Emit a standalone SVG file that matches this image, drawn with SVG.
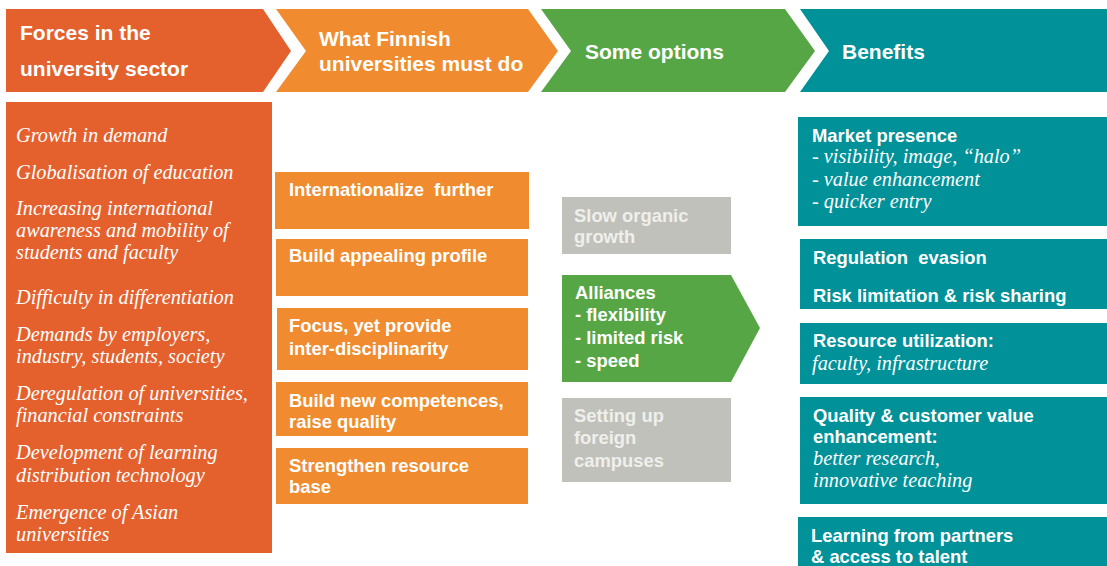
<svg xmlns="http://www.w3.org/2000/svg" width="1107" height="566" viewBox="0 0 1107 566">
<style>
.hd{font-family:"Liberation Sans",Arial,sans-serif;font-weight:bold;font-size:21px;fill:#ffffff}
.b{font-family:"Liberation Sans",Arial,sans-serif;font-weight:bold;font-size:18.4px;fill:#ffffff}
.g{font-family:"Liberation Sans",Arial,sans-serif;font-weight:bold;font-size:18.4px;fill:#EFEFEC}
.it{font-family:"Liberation Serif","Times New Roman",serif;font-style:italic;font-size:20.3px;fill:#ffffff}
.red{fill:#E4612E}
.org{fill:#F08C2F}
.grn{fill:#57A646}
.tea{fill:#009199}
.gry{fill:#C0C1BA}
</style>
<rect width="1107" height="566" fill="#ffffff"/>
<g id="connectors"></g>

<g id="header-forces">
<polygon class="red" points="6,9 263,9 291,51 263,92 6,92"/>
<text class="hd" x="20" y="40">Forces in the</text>
<text class="hd" x="20" y="76">university sector</text>
</g>
<g id="header-must-do">
<polygon class="org" points="276,9 528,9 558,51 528,92 276,92 306,51"/>
<text class="hd" x="319" y="46">What Finnish</text>
<text class="hd" x="319" y="71">universities must do</text>
</g>
<g id="header-options">
<polygon class="grn" points="541,9 785,9 815,51 785,92 541,92 571,51"/>
<text class="hd" x="585" y="59">Some options</text>
</g>
<g id="header-benefits">
<polygon class="tea" points="800,9 1107,9 1107,92 800,92 829,51"/>
<text class="hd" x="842" y="59">Benefits</text>
</g>

<g id="forces-list">
<rect class="red" x="6" y="102" width="266" height="451"/>
<text class="it" x="16" y="142">Growth in demand</text>
<text class="it" x="16" y="179">Globalisation of education</text>
<text class="it" x="16" y="215">Increasing international</text>
<text class="it" x="16" y="237">awareness and mobility of</text>
<text class="it" x="16" y="259">students and faculty</text>
<text class="it" x="16" y="304">Difficulty in differentiation</text>
<text class="it" x="16" y="341">Demands by employers,</text>
<text class="it" x="16" y="363">industry, students, society</text>
<text class="it" x="16" y="400">Deregulation of universities,</text>
<text class="it" x="16" y="422">financial constraints</text>
<text class="it" x="16" y="459">Development of learning</text>
<text class="it" x="16" y="482">distribution technology</text>
<text class="it" x="16" y="519">Emergence of Asian</text>
<text class="it" x="16" y="541">universities</text>
</g>

<g id="do-internationalize">
<rect class="org" x="275" y="172" width="254" height="57"/>
<text class="b" x="289" y="196" xml:space="preserve">Internationalize  further</text>
</g>
<g id="do-profile">
<rect class="org" x="276" y="239" width="252" height="57"/>
<text class="b" x="289" y="262">Build appealing profile</text>
</g>
<g id="do-focus">
<rect class="org" x="277" y="308" width="251" height="62"/>
<text class="b" x="289" y="332">Focus, yet provide</text>
<text class="b" x="289" y="355">inter-disciplinarity</text>
</g>
<g id="do-competences">
<rect class="org" x="276" y="382" width="252" height="54"/>
<text class="b" x="289" y="407">Build new competences,</text>
<text class="b" x="289" y="428">raise quality</text>
</g>
<g id="do-resource">
<rect class="org" x="276" y="448" width="252" height="56"/>
<text class="b" x="289" y="472">Strengthen resource</text>
<text class="b" x="289" y="493">base</text>
</g>

<g id="opt-organic">
<rect class="gry" x="562" y="197" width="169" height="57"/>
<text class="g" x="574" y="222">Slow organic</text>
<text class="g" x="574" y="243">growth</text>
</g>
<g id="opt-alliances">
<polygon class="grn" points="562,275 731,275 760,328 731,382 562,382"/>
<text class="b" x="575" y="299">Alliances</text>
<text class="b" x="575" y="321">- flexibility</text>
<text class="b" x="575" y="344">- limited risk</text>
<text class="b" x="575" y="367">- speed</text>
</g>
<g id="opt-campuses">
<rect class="gry" x="562" y="398" width="169" height="84"/>
<text class="g" x="574" y="422">Setting up</text>
<text class="g" x="574" y="444">foreign</text>
<text class="g" x="574" y="467">campuses</text>
</g>

<g id="ben-market">
<rect class="tea" x="798" y="117" width="309" height="109"/>
<text class="b" x="812" y="142">Market presence</text>
<text class="it" x="812" y="163">- visibility, image, “halo”</text>
<text class="it" x="812" y="186">- value enhancement</text>
<text class="it" x="812" y="208">- quicker entry</text>
</g>
<g id="ben-regulation">
<rect class="tea" x="800" y="239" width="307" height="70"/>
<text class="b" x="813" y="264" xml:space="preserve">Regulation  evasion</text>
<text class="b" x="813" y="302">Risk limitation &amp; risk sharing</text>
</g>
<g id="ben-resource">
<rect class="tea" x="800" y="323" width="307" height="61"/>
<text class="b" x="813" y="347">Resource utilization:</text>
<text class="it" x="812" y="370">faculty, infrastructure</text>
</g>
<g id="ben-quality">
<rect class="tea" x="800" y="397" width="307" height="107"/>
<text class="b" x="813" y="422">Quality &amp; customer value</text>
<text class="b" x="813" y="443">enhancement:</text>
<text class="it" x="813" y="465">better research,</text>
<text class="it" x="813" y="487">innovative teaching</text>
</g>
<g id="ben-learning">
<rect class="tea" x="798" y="517" width="309" height="49"/>
<text class="b" x="811" y="542">Learning from partners</text>
<text class="b" x="811" y="563">&amp; access to talent</text>
</g>
</svg>
